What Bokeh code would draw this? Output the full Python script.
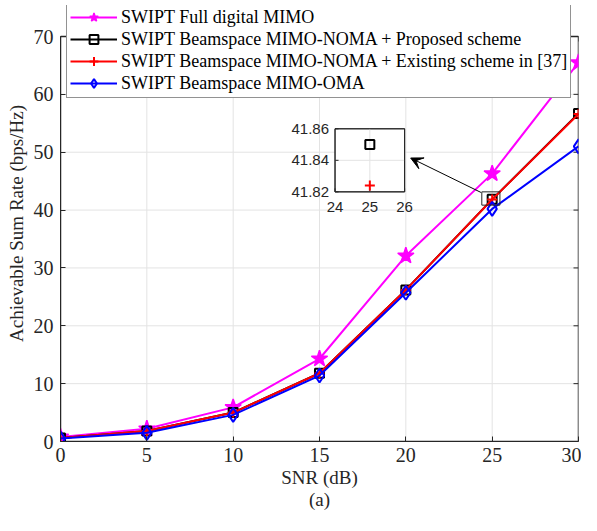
from bokeh.plotting import figure
from bokeh.models import (Legend, LegendItem, FixedTicker, Arrow, VeeHead, Range1d)
from bokeh.core.properties import value
from bokeh.embed import file_html
from bokeh.resources import INLINE

# ---------------- data ----------------
snr = [0, 5, 10, 15, 20, 25, 30]
full_digital = [0.8, 2.2, 5.9, 14.3, 32.1, 46.3, 65.5]
noma_proposed = [0.6, 1.8, 5.0, 11.8, 26.2, 41.85, 56.7]
noma_existing = [0.6, 1.8, 5.0, 11.8, 26.2, 41.824, 56.6]
oma = [0.5, 1.5, 4.6, 11.4, 25.7, 40.2, 51.0]

x_ticks = [0, 5, 10, 15, 20, 25, 30]
y_ticks = [0, 10, 20, 30, 40, 50, 60, 70]
inset_x_ticks = [24, 25, 26]
inset_y_ticks = [41.82, 41.84, 41.86]
inset_y_labels = ["41.82", "41.84", "41.86"]
zoom_index = 5

SERIF = "Liberation Serif"
SANS = "Liberation Sans"
AXC = "#262626"
GRID = "#e3e3e3"
XR = (0, 30)
YR = (0, 70)

# layout (pixels): frame spans from the legend top down to the x axis;
# the box of the axes starts BOX_GAP px below the frame top
W, H = 581, 515
B_LEFT, B_RIGHT, B_TOP, B_BOTTOM = 60, 3, 5, 74
BOX_GAP = 31
frame_h = H - B_TOP - B_BOTTOM
y_end = YR[1] * frame_h / (frame_h - BOX_GAP)

p = figure(width=W, height=H, output_backend="svg", toolbar_location=None,
           x_range=Range1d(*XR), y_range=Range1d(YR[0], y_end),
           min_border_left=B_LEFT, min_border_right=B_RIGHT, min_border_top=B_TOP,
           min_border_bottom=B_BOTTOM,
           x_axis_label="SNR (dB)\n(a)", y_axis_label="Achievable Sum Rate (bps/Hz)")
p.outline_line_color = None
p.xgrid.visible = False
p.ygrid.visible = False

for ax in [p.xaxis[0], p.yaxis[0]]:
    ax.axis_line_color = AXC
    ax.major_tick_line_color = AXC
    ax.major_tick_in = 5
    ax.major_tick_out = 0
    ax.minor_tick_line_color = None
    ax.major_label_text_font = SERIF
    ax.major_label_text_font_size = "20px"
    ax.major_label_text_color = AXC
    ax.axis_label_text_font = SERIF
    ax.axis_label_text_font_size = "19px"
    ax.axis_label_text_font_style = "normal"
    ax.axis_label_text_color = AXC
p.xaxis.ticker = FixedTicker(ticks=x_ticks)
p.yaxis.ticker = FixedTicker(ticks=y_ticks)
p.yaxis.bounds = YR
p.xaxis.bounds = XR
p.xaxis.major_label_standoff = 6
p.yaxis.major_label_standoff = 7
p.xaxis.axis_label_standoff = 2
p.yaxis.axis_label_standoff = 4
p.xaxis.axis_label_text_line_height = 1.05

# grid lines inside the axes box
p.segment(x0=x_ticks, y0=[YR[0]] * len(x_ticks), x1=x_ticks, y1=[YR[1]] * len(x_ticks),
          line_color=GRID, line_width=1)
p.segment(x0=[XR[0]] * len(y_ticks), y0=y_ticks, x1=[XR[1]] * len(y_ticks), y1=y_ticks,
          line_color=GRID, line_width=1)

# box + inward ticks on the top and right edges
p.quad(left=[XR[0]], right=[XR[1]], bottom=[YR[0]], top=[YR[1]], fill_color=None,
       line_color=AXC, line_width=1.5)
tlx = (XR[1] - XR[0]) / (W - B_LEFT - B_RIGHT) * 5
tly = y_end / frame_h * 5
p.segment(x0=x_ticks, y0=[YR[1]] * len(x_ticks), x1=x_ticks, y1=[YR[1] - tly] * len(x_ticks),
          line_color=AXC, line_width=1)
p.segment(x0=[XR[1]] * len(y_ticks), y0=y_ticks, x1=[XR[1] - tlx] * len(y_ticks), y1=y_ticks,
          line_color=AXC, line_width=1)

# ---------------- series ----------------
items = []
l1 = p.line(snr, full_digital, line_color="#ff00ff", line_width=2)
m1 = p.scatter(snr, full_digital, marker="star", size=17, fill_color="#ff00ff",
               line_color="#ff00ff", line_width=1.5)
items.append(LegendItem(label="SWIPT Full digital MIMO", renderers=[l1, m1]))

l2 = p.line(snr, noma_proposed, line_color="black", line_width=2)
m2 = p.scatter(snr, noma_proposed, marker="square", size=9, fill_color=None,
               line_color="black", line_width=2)
items.append(LegendItem(label="SWIPT Beamspace MIMO-NOMA + Proposed scheme", renderers=[l2, m2]))

l3 = p.line(snr, noma_existing, line_color="red", line_width=2)
m3 = p.scatter(snr, noma_existing, marker="cross", size=10, line_color="red", line_width=2)
items.append(LegendItem(label="SWIPT Beamspace MIMO-NOMA + Existing scheme in [37]", renderers=[l3, m3]))

l4 = p.line(snr, oma, line_color="blue", line_width=2)
m4 = p.scatter(snr, oma, marker="diamond", size=14, fill_color=None,
               line_color="blue", line_width=2)
items.append(LegendItem(label="SWIPT Beamspace MIMO-OMA", renderers=[l4, m4]))

legend = Legend(items=items, location=(6, frame_h - 93), label_text_font=SERIF,
                label_text_font_size="18px", label_text_color="black",
                glyph_width=47, glyph_height=22, label_height=18, label_standoff=4,
                spacing=0, padding=3, margin=0, border_line_color=AXC, border_line_width=1,
                background_fill_color="white", background_fill_alpha=1)
p.add_layout(legend, "center")

# ---------------- inset (drawn in main data space) ----------------
IX = (15.9, 19.93)      # inset frame position in main x units
IY = (43.15, 54.05)     # inset frame position in main y units
ixlim = (inset_x_ticks[0], inset_x_ticks[-1])
iylim = (inset_y_ticks[0], inset_y_ticks[-1])

def tx(v):
    return IX[0] + (v - ixlim[0]) / (ixlim[1] - ixlim[0]) * (IX[1] - IX[0])

def ty(v):
    return IY[0] + (v - iylim[0]) / (iylim[1] - iylim[0]) * (IY[1] - IY[0])

p.quad(left=[IX[0]], right=[IX[1]], bottom=[IY[0]], top=[IY[1]],
       fill_color="white", line_color=AXC, line_width=1)
mid_x = inset_x_ticks[1]
mid_y = inset_y_ticks[1]
p.segment(x0=[tx(mid_x)], y0=[IY[0]], x1=[tx(mid_x)], y1=[IY[1]], line_color=GRID, line_width=1)
p.segment(x0=[IX[0]], y0=[ty(mid_y)], x1=[IX[1]], y1=[ty(mid_y)], line_color=GRID, line_width=1)
itx = tlx * 0.7
ity = tly * 0.7
p.segment(x0=[tx(t) for t in inset_x_ticks], y0=[IY[0]] * 3,
          x1=[tx(t) for t in inset_x_ticks], y1=[IY[0] + ity] * 3, line_color=AXC)
p.segment(x0=[IX[0]] * 3, y0=[ty(t) for t in inset_y_ticks],
          x1=[IX[0] + itx] * 3, y1=[ty(t) for t in inset_y_ticks], line_color=AXC)
p.quad(left=[IX[0]], right=[IX[1]], bottom=[IY[0]], top=[IY[1]],
       fill_color=None, line_color=AXC, line_width=1)
p.scatter([tx(snr[zoom_index])], [ty(noma_proposed[zoom_index])], marker="square", size=9,
          fill_color=None, line_color="black", line_width=2)
p.scatter([tx(snr[zoom_index])], [ty(noma_existing[zoom_index])], marker="cross", size=10,
          line_color="red", line_width=2)
p.text(x=[IX[0]] * 3, y=[ty(t) for t in inset_y_ticks], text=inset_y_labels,
       x_offset=-6, text_align="right", text_baseline="middle", text_font=value(SANS),
       text_font_size="15px", text_color=AXC)
p.text(x=[tx(t) for t in inset_x_ticks], y=[IY[0]] * 3, text=[str(t) for t in inset_x_ticks],
       y_offset=10, text_align="center", text_baseline="top", text_font=value(SANS),
       text_font_size="15px", text_color=AXC)

# zoom rectangle and arrow
zx = snr[zoom_index]
zy = noma_proposed[zoom_index]
p.quad(left=[zx - 0.6], right=[zx + 0.45], bottom=[zy - 1.0], top=[zy + 1.3],
       fill_color=None, line_color=AXC, line_width=1)
p.add_layout(Arrow(end=VeeHead(size=12, fill_color="black", line_color="black"),
                   x_start=zx - 0.65, y_start=zy + 1.2, x_end=IX[1] + 0.35, y_end=49.0,
                   line_color="black", line_width=1))

open("out.html", "w").write(file_html(p, INLINE))
